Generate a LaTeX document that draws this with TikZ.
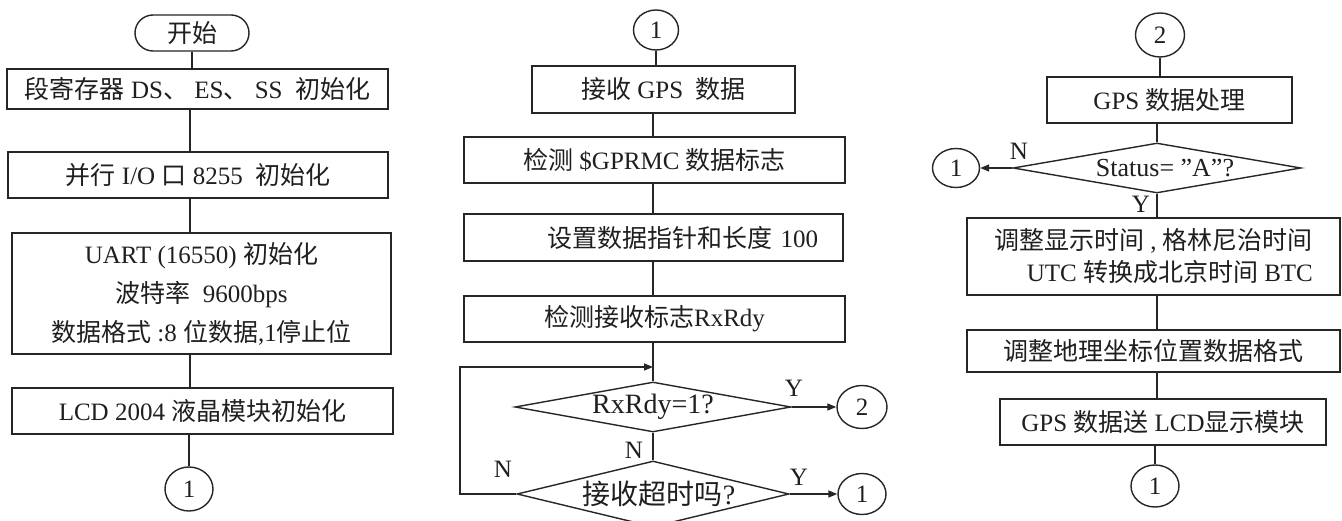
\documentclass[tikz,border=0pt]{standalone}
\usepackage{fontspec}
\setmainfont{Liberation Serif}
\newfontfamily\cjk{Noto Sans CJK SC}
\newcommand\zh[1]{{\cjk #1}}
\usetikzlibrary{shapes.geometric,arrows.meta}

\begin{document}
\begin{tikzpicture}[x=1pt, y=-1pt, line width=1.4pt,
  every node/.style={text=black!88},
  font=\fontsize{25}{32}\selectfont,
  proc/.style={draw=black!85, rectangle, inner sep=0pt},
  term/.style={draw=black!85, rectangle, rounded corners=18pt, inner sep=0pt},
  conn/.style={draw=black!85, ellipse, inner sep=0pt},
  decide/.style={draw=black!85, diamond, inner sep=0pt},
  qtext/.style={font=\fontsize{28}{32}\selectfont},
  link/.style={draw=black!85},
  arr/.style={draw=black!85, -{Triangle[length=9pt,width=7pt]}},
  tag/.style={inner sep=0pt}]

\fill[white] (0,0) rectangle (1342,521);
\useasboundingbox (0,0) rectangle (1342,521);

% ---------- initialisation ----------
\coordinate (lx) at (190,0);
\node[term, minimum width=114pt, minimum height=36pt] (start) at (192,33) {\zh{开始}};
\node[proc, minimum width=381pt, minimum height=40pt] (b1) at (197.5,89)
  {\zh{段寄存器} DS\zh{、} ES\zh{、} SS\ \ \zh{初始化}};
\node[proc, minimum width=380pt, minimum height=46pt] (b2) at (198,175)
  {\zh{并行} I/O \zh{口} 8255\ \ \zh{初始化}};
\node[proc, minimum width=379pt, minimum height=121pt, align=center] (b3) at (201.5,293.5)
  {UART (16550) \zh{初始化}\\[7pt]
   \zh{波特率}\ \ 9600bps\\[7pt]
   \zh{数据格式} :8 \zh{位数据},1\zh{停止位}};
\node[proc, minimum width=381pt, minimum height=46pt] (b4) at (202.5,411)
  {LCD 2004 \zh{液晶模块初始化}};
\node[conn, minimum width=48pt, minimum height=44pt] (c1) at (189,489) {1};

\draw[link] (start.south) -- (start.south |- b1.north);
\draw[link] (b1.south -| lx) -- (b2.north -| lx);
\draw[link] (b2.south -| lx) -- (b3.north -| lx);
\draw[link] (b3.south -| lx) -- (b4.north -| lx);
\draw[link] (b4.south -| c1) -- (c1.north);

% ---------- reception ----------
\coordinate (mx) at (653,0);
\coordinate (lp) at (460,367);
\node[conn, minimum width=45pt, minimum height=40pt] (mc1) at (656,30) {1};
\node[proc, minimum width=263pt, minimum height=47pt] (m1) at (663.5,89.5)
  {\zh{接收} GPS\ \ \zh{数据}};
\node[proc, minimum width=381pt, minimum height=46pt] (m2) at (654.5,160)
  {\zh{检测} \$GPRMC \zh{数据标志}};
\node[proc, minimum width=379pt, minimum height=47pt, text width=329pt, align=right] (m3) at (653.5,237.5)
  {\zh{设置数据指针和长度} 100};
\node[proc, minimum width=381pt, minimum height=46pt] (m4) at (654.5,319)
  {\zh{检测接收标志}RxRdy};
\node[decide, minimum width=276pt, minimum height=50pt,
  label={[qtext]center:RxRdy=1?}] (d1) at (653,407) {};
\node[decide, minimum width=272pt, minimum height=66pt,
  label={[qtext, xshift=6pt]center:\zh{接收超时吗}?}] (d2) at (653,494) {};
\node[conn, minimum width=50pt, minimum height=43pt] (mc2) at (862,407) {2};
\node[conn, minimum width=48pt, minimum height=41pt] (mc3) at (862,494) {1};

\draw[link] (mc1.south) -- (mc1.south |- m1.north);
\draw[link] (m1.south -| mx) -- (m2.north -| mx);
\draw[link] (m2.south -| mx) -- (m3.north -| mx);
\draw[link] (m3.south -| mx) -- (m4.north -| mx);
\draw[link] (m4.south -| mx) -- (d1.north);
\draw[link] (d1.south) -- (d2.north);
\draw[arr] (d1.east) -- (mc2.west);
\draw[arr] (d2.east) -- (mc3.west);
\draw[arr] (d2.west) -| (lp) -- (lp -| mx);

\node[tag] (y1) at (794,388) {Y};
\node[tag] (n1) at (634,450) {N};
\node[tag] (n2) at (503,469) {N};
\node[tag] (y2) at (799,477) {Y};

% ---------- processing ----------
\coordinate (rx) at (1157,0);
\node[conn, minimum width=49pt, minimum height=44pt] (rc2) at (1160,35) {2};
\node[proc, minimum width=245pt, minimum height=46pt] (r1) at (1169.5,100)
  {GPS \zh{数据处理}};
\node[decide, minimum width=288pt, minimum height=50pt,
  label={[font=\fontsize{26}{30}\selectfont, xshift=8pt]center:Status= ”A”?}] (rd) at (1157,168) {};
\node[conn, minimum width=47pt, minimum height=39pt] (rc1) at (956,168) {1};
\node[proc, minimum width=373pt, minimum height=77pt, align=right] (r2) at (1153.5,256.5)
  {\zh{调整显示时间} , \zh{格林尼治时间}\\
   UTC \zh{转换成北京时间} BTC};
\node[proc, minimum width=373pt, minimum height=42pt] (r3) at (1153.5,351)
  {\zh{调整地理坐标位置数据格式}};
\node[proc, minimum width=326pt, minimum height=46pt] (r4) at (1163,422)
  {GPS \zh{数据送} LCD\zh{显示模块}};
\node[conn, minimum width=48pt, minimum height=42pt] (rc3) at (1155,486) {1};

\draw[link] (rc2.south) -- (rc2.south |- r1.north);
\draw[link] (r1.south -| rx) -- (rd.north);
\draw[link] (rd.south) -- (r2.north -| rx);
\draw[link] (r2.south -| rx) -- (r3.north -| rx);
\draw[link] (r3.south -| rx) -- (r4.north -| rx);
\draw[link] (r4.south -| rc3) -- (rc3.north);
\draw[arr] (rd.west) -- (rc1.east);

\node[tag] (n3) at (1019,151) {N};
\node[tag] (y3) at (1141,204) {Y};

\end{tikzpicture}
\end{document}
